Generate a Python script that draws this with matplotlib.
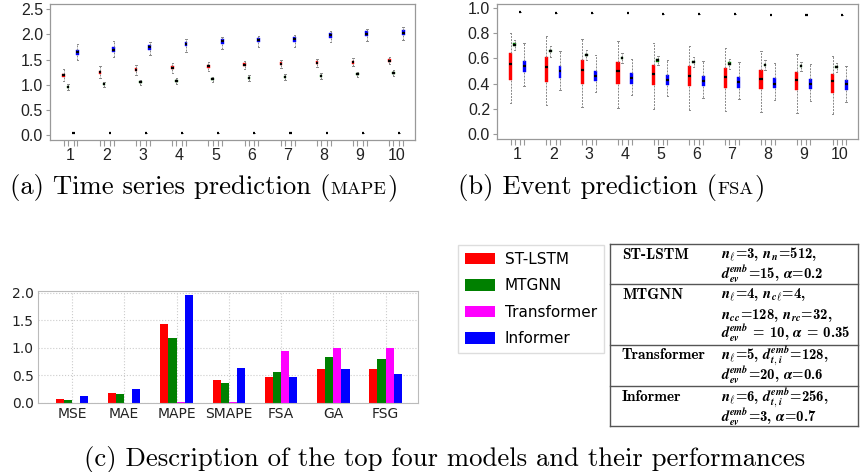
import numpy as np
import matplotlib
matplotlib.use('Agg')
import matplotlib.pyplot as plt

plt.rcParams['mathtext.fontset'] = 'cm'

W, H = 860, 472

models = ['ST-LSTM', 'MTGNN', 'Transformer', 'Informer']
colors = ['#ff0000', '#008000', '#ff00ff', '#0000ff']
steps = [1, 2, 3, 4, 5, 6, 7, 8, 9, 10]
offsets = [-0.19, -0.075, 0.08, 0.19]

# (a) time series prediction, MAPE per step
a_lstm_med = [1.19, 1.25, 1.30, 1.34, 1.37, 1.40, 1.42, 1.44, 1.45, 1.48]
a_lstm_q1 = [1.16, 1.22, 1.27, 1.31, 1.34, 1.37, 1.39, 1.41, 1.42, 1.45]
a_lstm_q3 = [1.22, 1.28, 1.33, 1.37, 1.40, 1.43, 1.45, 1.47, 1.48, 1.51]
a_lstm_lo = [1.07, 1.14, 1.20, 1.24, 1.28, 1.31, 1.34, 1.36, 1.38, 1.41]
a_lstm_hi = [1.32, 1.37, 1.40, 1.44, 1.46, 1.48, 1.50, 1.51, 1.53, 1.56]

a_mtgnn_med = [0.96, 1.01, 1.05, 1.08, 1.11, 1.13, 1.15, 1.18, 1.21, 1.24]
a_mtgnn_q1 = [0.94, 0.99, 1.03, 1.06, 1.09, 1.11, 1.13, 1.16, 1.19, 1.22]
a_mtgnn_q3 = [0.98, 1.03, 1.07, 1.10, 1.13, 1.15, 1.17, 1.20, 1.23, 1.26]
a_mtgnn_lo = [0.90, 0.96, 0.99, 1.02, 1.05, 1.07, 1.09, 1.12, 1.15, 1.18]
a_mtgnn_hi = [1.01, 1.06, 1.10, 1.13, 1.16, 1.19, 1.21, 1.23, 1.26, 1.29]

a_trans_med = [0.04, 0.04, 0.04, 0.04, 0.04, 0.04, 0.04, 0.04, 0.04, 0.05]

a_inf_med = [1.65, 1.70, 1.74, 1.81, 1.86, 1.89, 1.90, 1.98, 2.01, 2.03]
a_inf_q1 = [1.60, 1.65, 1.69, 1.76, 1.81, 1.84, 1.85, 1.93, 1.96, 1.98]
a_inf_q3 = [1.70, 1.75, 1.79, 1.85, 1.90, 1.93, 1.95, 2.03, 2.06, 2.08]
a_inf_lo = [1.50, 1.56, 1.60, 1.66, 1.71, 1.74, 1.75, 1.84, 1.87, 1.89]
a_inf_hi = [1.80, 1.86, 1.84, 1.90, 1.94, 1.97, 1.99, 2.06, 2.10, 2.15]

# (b) event prediction, FSA per step
b_lstm_med = [0.555, 0.53, 0.51, 0.497, 0.48, 0.463, 0.453, 0.44, 0.43, 0.42]
b_lstm_q1 = [0.43, 0.416, 0.40, 0.395, 0.387, 0.38, 0.37, 0.36, 0.347, 0.326]
b_lstm_q3 = [0.64, 0.61, 0.584, 0.57, 0.55, 0.537, 0.524, 0.51, 0.495, 0.479]
b_lstm_lo = [0.25, 0.23, 0.215, 0.205, 0.197, 0.19, 0.185, 0.176, 0.168, 0.158]
b_lstm_hi = [0.80, 0.78, 0.75, 0.737, 0.72, 0.70, 0.68, 0.66, 0.637, 0.616]

b_mtgnn_med = [0.708, 0.66, 0.626, 0.603, 0.584, 0.571, 0.558, 0.547, 0.539, 0.532]
b_mtgnn_q1 = [0.698, 0.65, 0.616, 0.593, 0.574, 0.561, 0.548, 0.537, 0.529, 0.522]
b_mtgnn_q3 = [0.718, 0.67, 0.636, 0.613, 0.594, 0.581, 0.568, 0.557, 0.549, 0.542]
b_mtgnn_lo = [0.663, 0.61, 0.59, 0.565, 0.545, 0.532, 0.52, 0.51, 0.50, 0.495]
b_mtgnn_hi = [0.747, 0.70, 0.665, 0.64, 0.622, 0.608, 0.595, 0.585, 0.575, 0.565]

b_trans_med = [0.963, 0.96, 0.958, 0.955, 0.953, 0.95, 0.948, 0.945, 0.943, 0.94]

b_inf_med = [0.537, 0.497, 0.463, 0.445, 0.43, 0.42, 0.41, 0.40, 0.40, 0.395]
b_inf_q1 = [0.49, 0.445, 0.418, 0.40, 0.39, 0.38, 0.368, 0.366, 0.358, 0.353]
b_inf_q3 = [0.58, 0.537, 0.503, 0.484, 0.47, 0.46, 0.453, 0.447, 0.44, 0.432]
b_inf_lo = [0.384, 0.353, 0.334, 0.313, 0.30, 0.284, 0.279, 0.271, 0.263, 0.255]
b_inf_hi = [0.72, 0.66, 0.63, 0.595, 0.59, 0.58, 0.57, 0.563, 0.558, 0.542]

# (c) overall performances
metrics = ['MSE', 'MAE', 'MAPE', 'SMAPE', 'FSA', 'GA', 'FSG']
c_lstm = [0.07, 0.18, 1.43, 0.41, 0.48, 0.62, 0.62]
c_mtgnn = [0.055, 0.16, 1.18, 0.36, 0.57, 0.84, 0.80]
c_trans = [0.003, 0.003, 0.025, 0.018, 0.945, 0.99, 0.99]
c_inf = [0.13, 0.25, 1.95, 0.64, 0.48, 0.62, 0.53]

# table text
N = r'$\boldsymbol{n}_{\ell}$'
D = r'$\boldsymbol{d}_{\boldsymbol{ev}}^{\boldsymbol{emb}}$'
DT = r'$\boldsymbol{d}_{\boldsymbol{t,i}}^{\boldsymbol{emb}}$'
A = r'$\boldsymbol{\alpha}$'
table_names = ['ST-LSTM', 'MTGNN', 'Transformer', 'Informer']
table_params = [
    [N + '=3, ' + r'$\boldsymbol{n}_{\boldsymbol{n}}$' + '=512,', D + '=15, ' + A + '=0.2'],
    [N + '=4, ' + r'$\boldsymbol{n}_{\boldsymbol{c}\ell}$' + '=4,',
     r'$\boldsymbol{n}_{\boldsymbol{cc}}$' + '=128, ' + r'$\boldsymbol{n}_{\boldsymbol{rc}}$' + '=32,',
     D + ' = 10, ' + A + ' = 0.35'],
    [N + '=5, ' + DT + '=128,', D + '=20, ' + A + '=0.6'],
    [N + '=6, ' + DT + '=256,', D + '=3, ' + A + '=0.7'],
]


def px_axes(x0, y0, x1, y1):
    return fig.add_axes([x0 / W, 1 - y1 / H, (x1 - x0) / W, (y1 - y0) / H])


def draw_boxes(ax, k, med, q1, q3, lo, hi, width):
    stats = [dict(med=m, q1=a, q3=b, whislo=l, whishi=h)
             for m, a, b, l, h in zip(med, q1, q3, lo, hi)]
    ax.bxp(stats, positions=[s + offsets[k] for s in steps], widths=width,
           patch_artist=True, showfliers=False, manage_ticks=False,
           boxprops=dict(facecolor=colors[k], edgecolor=colors[k], lw=0.3),
           medianprops=dict(color='black', lw=1.6),
           whiskerprops=dict(color='#888888', lw=0.7, ls=(0, (2, 1.2))),
           capprops=dict(color='#888888', lw=0.7), capwidths=0.04)


def style_box_axes(ax, ylim, yticks):
    ax.set_xlim(0.43, 10.52)
    ax.set_ylim(*ylim)
    ax.set_yticks(yticks)
    ax.set_yticklabels(['%.1f' % v for v in yticks])
    ax.set_xticks(steps)
    ax.set_xticklabels([str(s) for s in steps])
    ax.set_xticks([s + o for s in steps for o in offsets], minor=True)
    ax.tick_params(axis='x', which='major', length=0, pad=6)
    ax.tick_params(axis='x', which='minor', length=4, color='#999999', width=0.8)
    ax.tick_params(axis='y', length=3, color='#999999', width=0.8, pad=2)
    for lab in ax.get_xticklabels() + ax.get_yticklabels():
        lab.set_family('Liberation Sans')
        lab.set_fontsize(11.5)
        lab.set_color('#222222')
    for sp in ax.spines.values():
        sp.set_color('#999999')
        sp.set_linewidth(0.9)


fig = plt.figure(figsize=(8.6, 4.72), dpi=100)

# panel (a)
axa = px_axes(50, 4, 415, 140)
draw_boxes(axa, 0, a_lstm_med, a_lstm_q1, a_lstm_q3, a_lstm_lo, a_lstm_hi, 0.07)
draw_boxes(axa, 1, a_mtgnn_med, a_mtgnn_q1, a_mtgnn_q3, a_mtgnn_lo, a_mtgnn_hi, 0.07)
draw_boxes(axa, 2, a_trans_med, a_trans_med, a_trans_med, a_trans_med, a_trans_med, 0.06)
draw_boxes(axa, 3, a_inf_med, a_inf_q1, a_inf_q3, a_inf_lo, a_inf_hi, 0.08)
style_box_axes(axa, (-0.09, 2.6), [0.0, 0.5, 1.0, 1.5, 2.0, 2.5])

# panel (b)
axb = px_axes(497, 4, 858, 139)
draw_boxes(axb, 0, b_lstm_med, b_lstm_q1, b_lstm_q3, b_lstm_lo, b_lstm_hi, 0.09)
draw_boxes(axb, 1, b_mtgnn_med, b_mtgnn_q1, b_mtgnn_q3, b_mtgnn_lo, b_mtgnn_hi, 0.075)
draw_boxes(axb, 2, b_trans_med, b_trans_med, b_trans_med, b_trans_med, b_trans_med, 0.06)
draw_boxes(axb, 3, b_inf_med, b_inf_q1, b_inf_q3, b_inf_lo, b_inf_hi, 0.08)
style_box_axes(axb, (-0.037, 1.03), [0.0, 0.2, 0.4, 0.6, 0.8, 1.0])

# panel (c) bars
axc = px_axes(38, 291, 418, 403)
x = np.arange(len(metrics))
w = 0.155
bars = []
for k, vals in enumerate([c_lstm, c_mtgnn, c_trans, c_inf]):
    bars.append(axc.bar(x + (k - 1.5) * w, vals, w, color=colors[k], label=models[k]))
axc.set_xlim(-0.65, 6.62)
axc.set_ylim(0, 2.03)
axc.set_xticks(x)
axc.set_xticklabels(metrics)
axc.set_yticks([0.0, 0.5, 1.0, 1.5, 2.0])
axc.grid(True, ls=':', color='#cccccc', lw=0.8)
axc.set_axisbelow(True)
axc.tick_params(length=0, labelsize=10, colors='#222222', pad=3)
for sp in axc.spines.values():
    sp.set_color('#bbbbbb')

fig.legend(handles=bars, labels=models, loc='upper left',
           bbox_to_anchor=(458 / W, 1 - 245 / H), borderaxespad=0,
           fontsize=11, handlelength=1.95, handleheight=0.8,
           handletextpad=0.65, labelspacing=0.75, borderpad=0.45,
           fancybox=False, edgecolor='#dddddd', framealpha=1)

# overlay in pixel coordinates for the table and the captions
ov = fig.add_axes([0, 0, 1, 1])
ov.set_xlim(0, W)
ov.set_ylim(H, 0)
ov.axis('off')

tl, tr = 610, 858
row_lines = [244, 284, 345, 386, 426]
for y in row_lines:
    ov.plot([tl, tr], [y, y], color='#555555', lw=1.0)
ov.plot([tl, tl], [row_lines[0], row_lines[-1]], color='#555555', lw=1.0)
ov.plot([tr, tr], [row_lines[0], row_lines[-1]], color='#555555', lw=1.0)

baselines = [[259, 279], [299, 319, 338], [359, 380], [401, 422]]
for name, params, ys in zip(table_names, table_params, baselines):
    ov.text(622, ys[0], name, family='cmb10', fontsize=11, va='baseline')
    for txt, y in zip(params, ys):
        ov.text(721, y, txt, family='cmb10', fontsize=10.6, va='baseline')

renderer = fig.canvas.get_renderer()


def caption(x, y, parts):
    for txt, small in parts:
        t = ov.text(x, y, txt, family='cmr10', fontsize=13.3 if small else 19.2,
                    va='baseline', ha='left')
        bb = t.get_window_extent(renderer=renderer)
        x = ov.transData.inverted().transform((bb.x1, bb.y0))[0]
        if small:
            x += 1


caption(10, 194, [('(a) Time series prediction (', False), ('MAPE', True), (')', False)])
caption(458, 194, [('(b) Event prediction (', False), ('FSA', True), (')', False)])
caption(84, 466, [('(c) Description of the top four models and their performances', False)])

fig.savefig('out.png', dpi=100)
